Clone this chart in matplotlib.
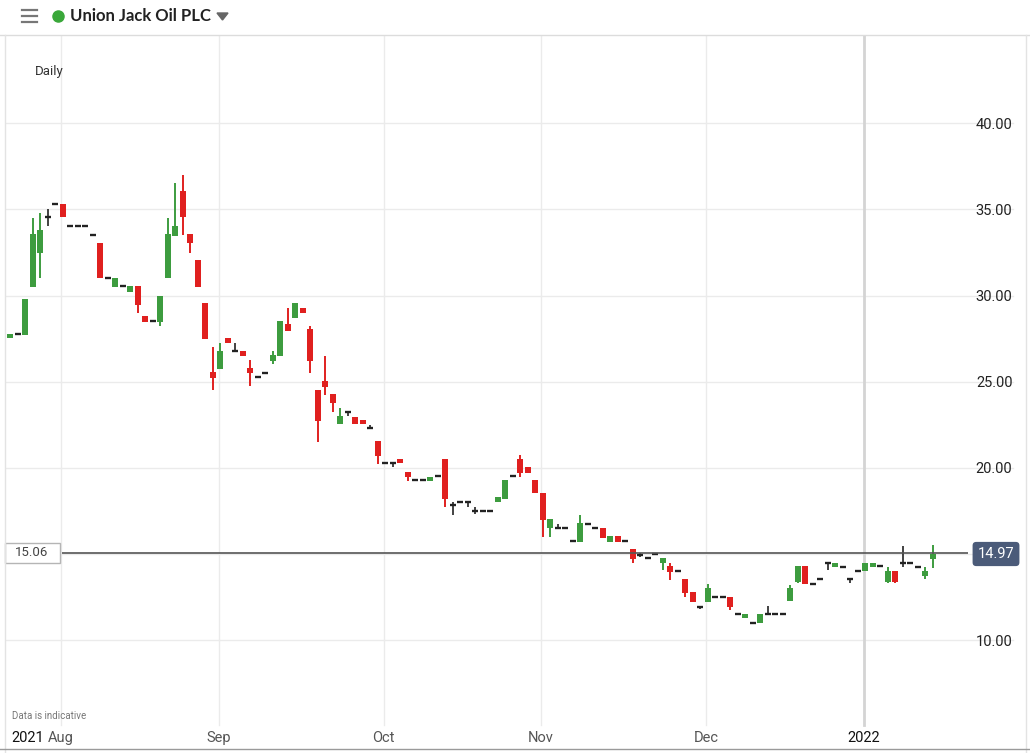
import matplotlib
matplotlib.use("Agg")
import matplotlib.pyplot as plt
from matplotlib.patches import Rectangle, Polygon

plt.rcParams['font.family'] = ['Roboto', 'DejaVu Sans']

# daily candles, 22 Jul 2021 .. 17 Jan 2022 (trading-day index)
opens = [27.55, 27.77, 27.7, 30.5, 32.5, 34.55, 35.3, 35.3, 34.05, 34.05,
         34.05, 33.5, 33.05, 31.0, 30.5, 30.55, 30.2, 30.55, 28.8, 28.5,
         28.47, 31.0, 33.45, 36.05, 33.6, 32.05, 29.55, 25.55, 25.75, 27.55,
         26.8, 26.8, 25.8, 25.27, 25.5, 26.2, 26.5, 28.35, 28.7, 29.3,
         28.05, 24.5, 25.05, 24.3, 22.55, 23.24, 22.95, 22.8, 22.3, 21.55,
         20.28, 20.28, 20.5, 19.75, 19.29, 19.29, 19.25, 19.52, 20.5, 17.85,
         18.0, 18.0, 17.5, 17.5, 17.5, 18.0, 18.2, 19.52, 20.5, 20.05,
         19.3, 18.55, 16.5, 16.5, 16.5, 15.75, 15.7, 16.74, 16.5, 16.5,
         15.7, 16.05, 15.75, 15.3, 14.95, 14.76, 14.99, 14.45, 14.3, 14.0,
         13.55, 12.8, 11.92, 12.2, 12.5, 12.5, 12.5, 11.51, 11.3, 11.0,
         11.0, 11.5, 11.5, 11.5, 12.25, 13.35, 14.3, 13.25, 13.54, 14.45,
         14.25, 14.24, 13.55, 14.0, 14.0, 14.25, 14.3, 13.35, 14.0, 14.47,
         14.47, 14.24, 13.7, 14.7]
closes = [27.75, 27.77, 29.8, 33.6, 33.8, 34.55, 35.3, 34.55, 34.05, 34.05,
          34.05, 33.5, 31.0, 31.0, 31.0, 30.55, 30.55, 29.45, 28.45, 28.5,
          30.0, 33.6, 34.05, 34.55, 33.05, 30.5, 27.5, 25.2, 26.8, 27.25,
          26.8, 26.5, 25.5, 25.27, 25.5, 26.55, 28.55, 27.95, 29.55, 29.0,
          26.2, 22.7, 24.7, 23.75, 23.0, 23.24, 22.55, 22.55, 22.3, 20.7,
          20.28, 20.28, 20.3, 19.45, 19.29, 19.29, 19.45, 19.52, 18.2, 17.85,
          18.0, 18.0, 17.5, 17.5, 17.5, 18.3, 19.3, 19.52, 19.7, 19.7,
          18.55, 16.95, 17.0, 16.5, 16.5, 15.75, 16.8, 16.74, 16.5, 15.9,
          16.05, 15.7, 15.75, 14.7, 14.95, 14.76, 14.99, 14.75, 13.95, 14.0,
          12.75, 12.2, 11.92, 13.0, 12.5, 12.5, 11.9, 11.51, 11.5, 11.0,
          11.5, 11.5, 11.5, 11.5, 13.0, 14.3, 13.25, 13.25, 13.54, 14.45,
          14.45, 14.24, 13.55, 14.0, 14.45, 14.45, 14.3, 14.0, 13.35, 14.47,
          14.47, 14.24, 14.0, 14.97]
# wick extremes that go beyond the body (index: value)
high_ext = {3: 34.5, 4: 34.8, 5: 35.0, 21: 34.5, 22: 36.55, 23: 37.0,
            27: 27.0, 28: 27.25, 30: 27.25, 32: 26.25, 35: 26.8, 37: 29.3,
            40: 28.25, 42: 26.5, 44: 23.45, 48: 22.5, 59: 18.0, 62: 17.7,
            68: 20.75, 73: 16.75, 76: 17.25, 84: 15.05, 88: 14.45, 93: 13.25,
            101: 11.95, 104: 13.2, 117: 14.25, 119: 15.45, 122: 14.25, 123: 15.5}
low_ext = {4: 31.0, 5: 34.05, 17: 29.0, 20: 28.25, 23: 33.5, 24: 32.5,
           27: 24.5, 32: 24.75, 35: 26.0, 40: 25.5, 41: 21.5, 42: 24.25,
           43: 23.25, 45: 23.0, 49: 20.2, 51: 20.05, 53: 19.25, 58: 17.7,
           59: 17.25, 61: 17.7, 62: 17.3, 68: 19.45, 71: 16.0, 72: 16.0,
           83: 14.45, 84: 14.8, 87: 14.05, 88: 13.5, 90: 12.5, 92: 11.8,
           96: 11.75, 105: 13.3, 109: 14.05, 112: 13.3, 117: 13.3, 118: 13.3,
           119: 14.25, 122: 13.55, 123: 14.2}
highs = [max(o, c, high_ext.get(i, 0)) for i, (o, c) in enumerate(zip(opens, closes))]
lows = [min(o, c, low_ext.get(i, 99)) for i, (o, c) in enumerate(zip(opens, closes))]

month_starts = [7, 28, 50, 71, 93, 114]
month_labels = ['Aug', 'Sep', 'Oct', 'Nov', 'Dec', '2022']
price_ticks = [10, 15, 20, 25, 30, 35, 40]
ref_price = 15.06
last_price = closes[-1]

W, H = 1030, 753
GREEN, RED, DOJI = '#3d9c3f', '#e0201f', '#222222'


def fx(px):
    return px / W


def fy(py):
    return 1 - py / H


fig = plt.figure(figsize=(W / 100, H / 100), dpi=100)
ax = fig.add_axes([fx(5), fy(748), fx(1020), 713 / H])
ax.set_xlim(-0.667, 135.33)
ax.set_ylim(3.73, 45.13)
for s in ax.spines.values():
    s.set_visible(False)

# grid
for p in price_ticks:
    ax.axhline(p, xmax=0.988, color='#ebebeb', lw=1, zorder=0)
for m in month_starts[:-1]:
    ax.axvline(m - 0.2, ymin=0.032, color='#ebebeb', lw=1, zorder=0)
ax.axvline(month_starts[-1] - 0.2, ymin=0.032, color='#d4d4d4', lw=2, zorder=0)

# candles
bw = 0.8
for i, (o, h, l, c) in enumerate(zip(opens, highs, lows, closes)):
    if o == c:
        col = DOJI
        ax.hlines(o, i - bw / 2, i + bw / 2, color=col, lw=1.7, zorder=3)
    else:
        col = GREEN if c > o else RED
        ax.bar(i, abs(c - o), bottom=min(o, c), width=bw, color=col,
               linewidth=0, zorder=3)
    if h > max(o, c) or l < min(o, c):
        ax.vlines(i, l, h, color=col, lw=1.2 if o == c else 1.4, zorder=2)

# last price line
ax.hlines(ref_price, 6.9, 127.7, color='#555555', lw=1.2, zorder=4)

# axes ticks
ax.set_yticks(price_ticks)
ax.set_yticklabels(['%.2f' % p for p in price_ticks])
ax.yaxis.tick_right()
ax.tick_params(axis='y', length=0, pad=-9, labelsize=10.5, labelcolor='#222')
for lbl in ax.get_yticklabels():
    lbl.set_horizontalalignment('right')

ax.set_xticks([m - 0.2 for m in month_starts] + [2.4])
ax.set_xticklabels(month_labels + ['2021'])
ax.tick_params(axis='x', length=0, pad=-12.5, labelsize=10.5, labelcolor='#555')
for lbl in ax.get_xticklabels():
    if lbl.get_text() in ('2021', '2022'):
        lbl.set_color('#111')

# frame & header decorations
fig.add_artist(plt.Line2D([0, 1], [fy(35), fy(35)], color='#dcdcdc', lw=1))
fig.add_artist(plt.Line2D([fx(5), fx(5)], [fy(35), 0], color='#e3e3e3', lw=1))
fig.add_artist(plt.Line2D([fx(1026), fx(1026)], [fy(35), 0], color='#e3e3e3', lw=1))
fig.add_artist(plt.Line2D([0, 1], [fy(749), fy(749)], color='#9a9a9a', lw=1))
for yy in (10, 16, 22):
    fig.add_artist(plt.Line2D([fx(22), fx(37)], [fy(yy), fy(yy)], color='#777', lw=1.6))
fig.add_artist(plt.Line2D([fx(58)], [fy(16)], marker='o', markersize=8,
                          color='#3aa83a', linestyle='none'))
fig.add_artist(Polygon([[fx(217), fy(13)], [fx(228), fy(13)], [fx(222.5), fy(20)]],
                       closed=True, transform=fig.transFigure, color='#666'))
fig.text(fx(70), fy(16), 'Union Jack Oil PLC', fontsize=12, fontweight='bold',
         color='#222', va='center', family=['Lato', 'DejaVu Sans'])
fig.text(fx(35), fy(72), 'Daily', fontsize=9.5, color='#333', va='center')
fig.text(fx(12), fy(716), 'Data is indicative', fontsize=7, color='#777', va='center')

# price labels
fig.add_artist(Rectangle((fx(5), fy(563)), fx(55), 20 / H, transform=fig.transFigure,
                         facecolor='white', edgecolor='#b5b5b5', lw=1))
fig.text(fx(32), fy(553), '%.2f' % ref_price, fontsize=9.5, color='#444',
         ha='center', va='center')
fig.text(fx(996), fy(554), '%.2f' % last_price, fontsize=10.5, color='white',
         ha='center', va='center',
         bbox=dict(boxstyle='round,pad=0.35,rounding_size=0.25', fc='#4b5b79', ec='none'))

fig.savefig('out.png', dpi=100)
